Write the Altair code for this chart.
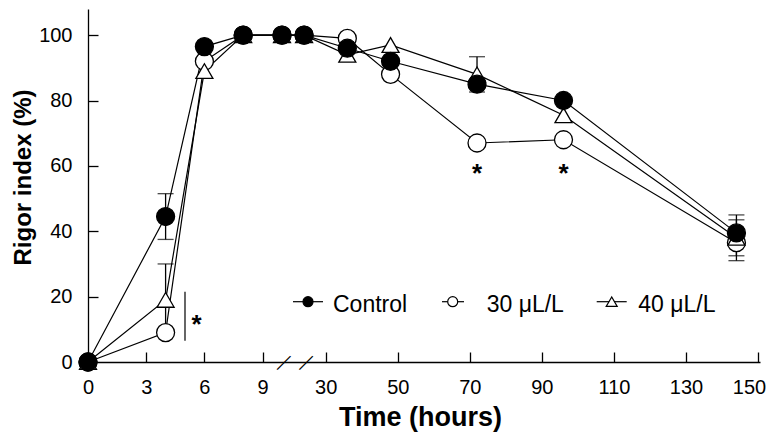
import altair as alt
import pandas as pd

# ---------------- data ----------------
hours = [0, 4, 6, 8, 10, 24, 36, 48, 72, 96, 144]
series_names = ["Control", "30 μL/L", "40 μL/L"]
control = [0, 44.5, 96.5, 100, 100, 100, 96, 92, 85, 80, 39.5]
control_sd = [0, 7, 0, 0, 0, 0, 0, 0, 0, 0, 4]
c30 = [0, 9, 92, 100, 100, 100, 99, 88, 67, 68, 36.5]
c30_sd = [0, 0, 0, 0, 0, 0, 0, 0, 0, 0, 4]
c40 = [0, 19, 89, 100, 100, 100, 94, 97, 88, 75.5, 38]
c40_sd = [0, 11, 0, 0, 0, 0, 0, 0, 5.4, 0, 7]

x_tick_hours = [0, 3, 6, 9, 30, 50, 70, 90, 110, 130, 150]
y_ticks = [0, 20, 40, 60, 80, 100]

star_hours = [5.6, 72, 96]
star_values = [11.4, 57.5, 57.5]
bracket_hours = [5]
bracket_lo = [6.5]
bracket_hi = [21.5]
break_hours = [10.05, 11.2]

# ---------------- broken axis transform ----------------
LEFT_MAX = 12          # hours up to here use the left (expanded) segment
R0 = 12.253            # position of 30 h on the right segment
RS = 0.18572           # position units per hour on the right segment
XMAX = 34.64
pos_expr = f"datum.hours <= {LEFT_MAX} ? datum.hours : {R0} + (datum.hours - 30) * {RS}"


def to_pos(h):
    return h if h <= LEFT_MAX else R0 + (h - 30) * RS


x_tick_pos = [to_pos(h) for h in x_tick_hours]
label_expr = (f"datum.value <= {LEFT_MAX} ? format(datum.value, 'd') : "
              f"format(round(30 + (datum.value - {R0}) / {RS}), 'd')")

rows = []
for name, vals, sds in [(series_names[0], control, control_sd),
                        (series_names[1], c30, c30_sd),
                        (series_names[2], c40, c40_sd)]:
    for h, v, s in zip(hours, vals, sds):
        rows.append({"hours": h, "series": name, "value": v, "sd": s})
df = pd.DataFrame(rows)

W, H = 672, 353
FONT = "Liberation Sans"
xscale = alt.Scale(domain=[0, XMAX], nice=False, zero=False)
yscale = alt.Scale(domain=[0, 108], nice=False)

base = alt.Chart(df).transform_calculate(pos=pos_expr)

x_main = alt.X("pos:Q", scale=xscale, axis=alt.Axis(
    orient="bottom", values=x_tick_pos, labelExpr=label_expr, ticks=False, tickSize=0,
    domainColor="black", domainWidth=1.3, labelFont=FONT, labelFontSize=20,
    labelColor="black", labelPadding=15, grid=False, labelFlush=False,
    labelOffset={"condition": {"test": f"datum.value > {XMAX - 1}", "value": -9}, "value": 0},
    title="Time (hours)",
    titleFont=FONT, titleFontSize=27, titleFontWeight="bold", titleColor="black",
    titlePadding=7, titleX=332))
y_main = alt.Y("value:Q", scale=yscale, axis=alt.Axis(
    orient="left", values=y_ticks, ticks=False, tickSize=0, domainColor="black",
    domainWidth=1.3, labelFont=FONT, labelFontSize=20, labelColor="black",
    labelPadding=16, grid=False, labelFlush=False, title="Rigor index (%)", titleFont=FONT,
    titleFontSize=24, titleFontWeight="bold", titleColor="black", titlePadding=3,
    titleY=168))

x_tick_axis = alt.X("pos:Q", scale=xscale, axis=alt.Axis(
    orient="top", offset=-H, values=x_tick_pos[1:], labels=False, domain=False,
    ticks=True, tickSize=10, tickWidth=1.3, tickColor="black", grid=False, title=None))
y_tick_axis = alt.Y("value:Q", scale=yscale, axis=alt.Axis(
    orient="right", offset=-W, values=y_ticks[1:], labels=False, domain=False,
    ticks=True, tickSize=10, tickWidth=1.3, tickColor="black", grid=False, title=None))

xn = alt.X("pos:Q", scale=xscale, axis=None)
yn = alt.Y("value:Q", scale=yscale, axis=None)

lines = base.mark_line(color="black", strokeWidth=1.2).encode(
    x=x_main, y=y_main, detail="series:N")

err = base.transform_filter("datum.sd > 0").transform_calculate(
    lo="datum.value - datum.sd", hi="datum.value + datum.sd")
err_rule = err.mark_rule(color="black", strokeWidth=1.3).encode(
    x=xn, y=alt.Y("lo:Q", scale=yscale, axis=None), y2="hi:Q")
cap_lo = err.mark_tick(orient="horizontal", size=16, thickness=1.3, color="black").encode(
    x=xn, y=alt.Y("lo:Q", scale=yscale, axis=None))
cap_hi = err.mark_tick(orient="horizontal", size=16, thickness=1.3, color="black").encode(
    x=xn, y=alt.Y("hi:Q", scale=yscale, axis=None))

pts30 = base.transform_filter(alt.datum.series == series_names[1]).mark_point(
    shape="circle", filled=True, fill="white", stroke="black", strokeWidth=1.3,
    size=324, opacity=1).encode(x=xn, y=yn)
pts40 = base.transform_filter(alt.datum.series == series_names[2]).mark_point(
    shape="triangle-up", filled=True, fill="white", stroke="black", strokeWidth=1.3,
    size=289, opacity=1).encode(x=xn, y=yn)
ptsC = base.transform_filter(alt.datum.series == series_names[0]).mark_point(
    shape="circle", filled=True, fill="black", stroke="black", strokeWidth=1.3,
    size=324, opacity=1).encode(x=x_tick_axis, y=y_tick_axis)

ann_calc = pos_expr
bracket = alt.Chart(pd.DataFrame({"hours": bracket_hours, "lo": bracket_lo, "hi": bracket_hi})) \
    .transform_calculate(pos=ann_calc).mark_rule(color="black", strokeWidth=1.2).encode(
    x=xn, y=alt.Y("lo:Q", scale=yscale, axis=None), y2="hi:Q")
stars = alt.Chart(pd.DataFrame({"hours": star_hours, "value": star_values})) \
    .transform_calculate(pos=ann_calc).mark_text(
    text="*", font=FONT, fontSize=26, fontWeight="bold", color="black",
    align="center", baseline="middle").encode(x=xn, y=yn)
breaks = alt.Chart(pd.DataFrame({"hours": break_hours, "value": [0, 0]})) \
    .transform_calculate(pos=ann_calc).mark_text(
    text="—", font=FONT, fontSize=19, color="black", angle=315,
    align="center", baseline="middle").encode(x=xn, y=yn)

# ---------------- manual legend ----------------
leg_y = 292.7
leg_text_y = 303
leg_items = [
    # (name, marker x, line x1, line x2, text x, shape, fill, size)
    (series_names[0], 220, 205, 235, 245, "circle", "black", 100),
    (series_names[1], 364.7, 354, 376, 398.7, "circle", "white", 100),
    (series_names[2], 523.7, 508.7, 538.7, 550.3, "triangle-up", "white", 121),
]
legend_layers = []
for name, mx, lx1, lx2, tx, shp, fill, sz in leg_items:
    ld = alt.Chart(pd.DataFrame({"series": [name]}))
    legend_layers.append(ld.mark_rule(color="black", strokeWidth=1.2).encode(
        x=alt.value(lx1), x2=alt.value(lx2), y=alt.value(leg_y)))
    legend_layers.append(ld.mark_point(shape=shp, filled=True, fill=fill, stroke="black",
                                       strokeWidth=1.2, size=sz, opacity=1).encode(
        x=alt.value(mx), y=alt.value(leg_y)))
    legend_layers.append(ld.mark_text(font=FONT, fontSize=23, color="black", align="left",
                                      baseline="alphabetic").encode(
        x=alt.value(tx), y=alt.value(leg_text_y), text="series:N"))

chart = alt.layer(
    lines, err_rule, cap_lo, cap_hi, pts30, pts40, ptsC, bracket, stars, breaks,
    *legend_layers
).resolve_scale(x="shared", y="shared").resolve_axis(
    x="independent", y="independent"
).properties(
    width=W, height=H,
    autosize=alt.AutoSizeParams(type="none"),
    padding={"left": 80, "top": 1, "right": 6, "bottom": 71},
    background="white",
).configure_view(stroke=None)

chart.save("out.html", embed_options={"renderer": "svg", "actions": False})
